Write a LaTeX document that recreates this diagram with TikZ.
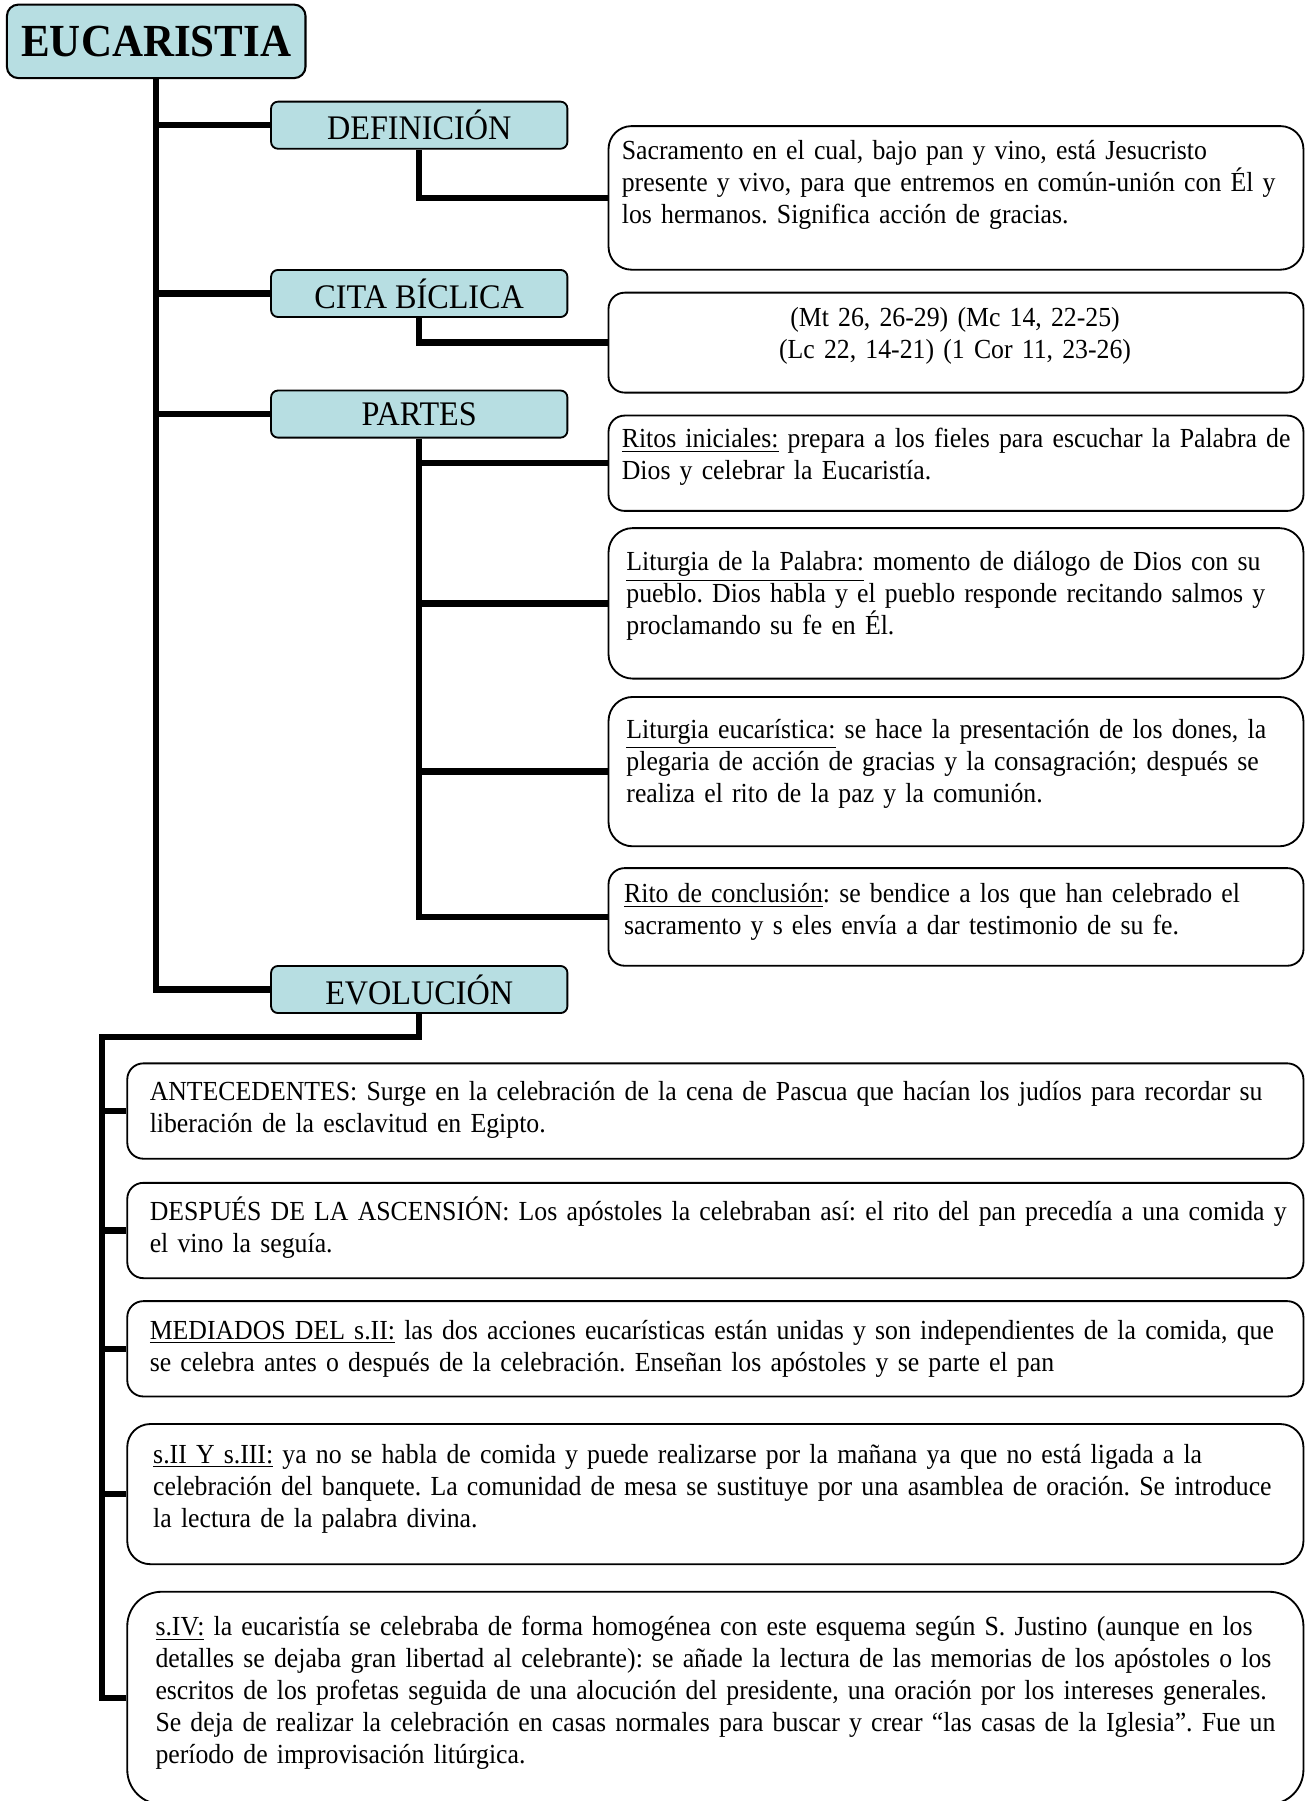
\documentclass[tikz,border=0pt]{standalone}
\usepackage{fontspec}
\setmainfont{Liberation Serif}[FakeStretch=0.935]
\usepackage{xcolor}
\usepackage{tikz}
\usetikzlibrary{positioning, calc}
\definecolor{headcolor}{RGB}{183,222,226}
\frenchspacing

\begin{document}
\begin{tikzpicture}[
    x=0.5pt, y=-0.5pt,
    mainhead/.style={draw, line width=0.9pt, fill=headcolor, minimum width=130pt, minimum height=32pt, rounded corners=5pt, font=\bfseries\fontsize{20}{23}\selectfont},
    head/.style={draw, line width=0.8pt, fill=headcolor, minimum width=129pt, minimum height=20.5pt, rounded corners=3pt, font=\fontsize{15}{17}\selectfont},
    txtframe/.style={draw, line width=0.8pt, rounded corners=#1, anchor=north west, inner sep=0pt},
    body/.style={anchor=base west, inner sep=0pt, text width=560pt, align=left, font=\fontsize{12}{13.9}\selectfont},
    link/.style={line width=2.8pt}
]
    \useasboundingbox (0,0) rectangle (1136,1568);

    % Headings
    \node[mainhead] (title) at (136,36) {EUCARISTIA};
    \node[head] (defhead) at (365,109) {DEFINICIÓN};
    \node[head] (citahead) at (365,255.5) {CITA BÍCLICA};
    \node[head] (partes) at (365,360.5) {PARTES};
    \node[head] (evo) at (365,861.5) {EVOLUCIÓN};

    % Definicion y cita
    \node[txtframe=10pt, minimum width=302.5pt, minimum height=62.5pt] (defn) at (529,109) {};
    \node[body] (defntxt) at (541,139) {Sacramento en el cual, bajo pan y vino, está Jesucristo\\presente y vivo, para que entremos en común-unión con Él y\\los hermanos. Significa acción de gracias.};
    \node[txtframe=7pt, minimum width=302.5pt, minimum height=43.5pt] (cita) at (529,254) {};
    \node[body, anchor=base, text width=290pt, align=center] (citatxt) at (831.5,284) {(Mt 26, 26-29) (Mc 14, 22-25)\\(Lc 22, 14-21) (1 Cor 11, 23-26)};

    % Partes
    \node[txtframe=7pt, minimum width=302.5pt, minimum height=41.5pt] (r1) at (529,361) {};
    \node[body] (r1txt) at (541,390) {\underline{Ritos iniciales:} prepara a los fieles para escuchar la Palabra de\\Dios y celebrar la Eucaristía.};
    \node[txtframe=10.5pt, minimum width=302.5pt, minimum height=65.5pt] (r2) at (529,459) {};
    \node[body] (r2txt) at (545,497) {\underline{Liturgia de la Palabra:} momento de diálogo de Dios con su\\pueblo. Dios habla y el pueblo responde recitando salmos y\\proclamando su fe en Él.};
    \node[txtframe=10.5pt, minimum width=302.5pt, minimum height=65pt] (r3) at (529,606) {};
    \node[body] (r3txt) at (545,643) {\underline{Liturgia eucarística:} se hace la presentación de los dones, la\\plegaria de acción de gracias y la consagración; después se\\realiza el rito de la paz y la comunión.};
    \node[txtframe=7pt, minimum width=302.5pt, minimum height=42.5pt] (r4) at (529,755) {};
    \node[body] (r4txt) at (543,786) {\underline{Rito de conclusión}: se bendice a los que han celebrado el\\sacramento y s eles envía a dar testimonio de su fe.};

    % Evolucion
    \node[txtframe=7pt, minimum width=512pt, minimum height=41.5pt] (e1) at (110,925) {};
    \node[body] (e1txt) at (130,958) {ANTECEDENTES: Surge en la celebración de la cena de Pascua que hacían los judíos para recordar su\\liberación de la esclavitud en Egipto.};
    \node[txtframe=7pt, minimum width=512pt, minimum height=41.5pt] (e2) at (110,1029) {};
    \node[body] (e2txt) at (130,1063) {DESPUÉS DE LA ASCENSIÓN: Los apóstoles la celebraban así: el rito del pan precedía a una comida y\\el vino la seguía.};
    \node[txtframe=7pt, minimum width=512pt, minimum height=41.5pt] (e3) at (110,1132) {};
    \node[body] (e3txt) at (130,1166) {\underline{MEDIADOS DEL s.II:} las dos acciones eucarísticas están unidas y son independientes de la comida, que\\se celebra antes o después de la celebración. Enseñan los apóstoles y se parte el pan};
    \node[txtframe=10pt, minimum width=512pt, minimum height=61pt] (e4) at (110,1239) {};
    \node[body] (e4txt) at (133,1274) {\underline{s.II Y s.III:} ya no se habla de comida y puede realizarse por la mañana ya que no está ligada a la\\celebración del banquete. La comunidad de mesa se sustituye por una asamblea de oración. Se introduce\\la lectura de la palabra divina.};
    \node[txtframe=15pt, minimum width=512pt, minimum height=92.5pt] (e5) at (110,1385) {};
    \node[body] (e5txt) at (135,1424) {\underline{s.IV:} la eucaristía se celebraba de forma homogénea con este esquema según S. Justino (aunque en los\\detalles se dejaba gran libertad al celebrante): se añade la lectura de las memorias de los apóstoles o los\\escritos de los profetas seguida de una alocución del presidente, una oración por los intereses generales.\\Se deja de realizar la celebración en casas normales para buscar y crear “las casas de la Iglesia”. Fue un\\período de improvisación litúrgica.};

    % Connections
    \draw[link] (title.south) |- (evo.west);
    \foreach \h in {defhead, citahead, partes}
        \draw[link] (title.south |- \h.west) -- (\h.west);
    \draw[link] (defhead.south) |- (defn.west);
    \draw[link] (citahead.south) |- (cita.west);
    \draw[link] (partes.south) |- (r4.west);
    \foreach \r in {r1, r2, r3}
        \draw[link] (partes.south |- \r.west) -- (\r.west);
    \coordinate (evoknee) at (89,903);
    \draw[link] (evo.south) |- (evoknee) |- (e5.west);
    \foreach \e in {e1, e2, e3, e4}
        \draw[link] (evoknee |- \e.west) -- (\e.west);
\end{tikzpicture}
\end{document}
